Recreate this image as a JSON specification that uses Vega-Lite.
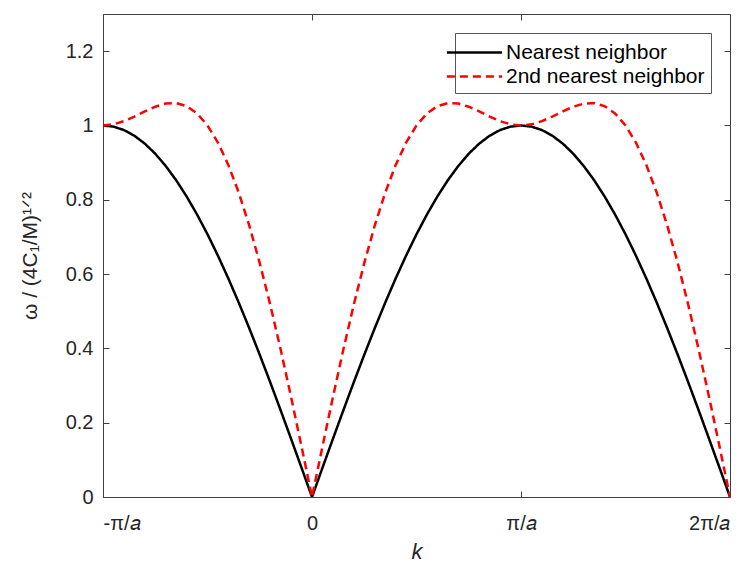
{
  "$schema": "https://vega.github.io/schema/vega-lite/v6.json",
  "width": 627,
  "height": 483,
  "autosize": {"type": "none"},
  "padding": {"left": 103, "top": 14, "right": 24, "bottom": 68},
  "background": "white",
  "config": {
    "view": {"stroke": "#404040", "strokeWidth": 1},
    "axis": {
      "labelFont": "Liberation Sans",
      "labelFontSize": 20,
      "labelColor": "#262626",
      "titleFont": "Liberation Sans",
      "titleFontSize": 20,
      "titleFontWeight": "normal",
      "titleColor": "#262626",
      "domainColor": "#404040",
      "tickColor": "#404040",
      "grid": false
    },
    "legend": {
      "labelFont": "Liberation Sans",
      "labelFontSize": 21,
      "labelColor": "#000000",
      "labelLimit": 400
    }
  },
  "data": {
    "values": [
      {"k": -1, "w": 1, "s": "Nearest neighbor"},
      {"k": -0.95, "w": 0.9969, "s": "Nearest neighbor"},
      {"k": -0.9, "w": 0.9877, "s": "Nearest neighbor"},
      {"k": -0.85, "w": 0.9724, "s": "Nearest neighbor"},
      {"k": -0.8, "w": 0.9511, "s": "Nearest neighbor"},
      {"k": -0.75, "w": 0.9239, "s": "Nearest neighbor"},
      {"k": -0.7, "w": 0.891, "s": "Nearest neighbor"},
      {"k": -0.65, "w": 0.8526, "s": "Nearest neighbor"},
      {"k": -0.6, "w": 0.809, "s": "Nearest neighbor"},
      {"k": -0.55, "w": 0.7604, "s": "Nearest neighbor"},
      {"k": -0.5, "w": 0.7071, "s": "Nearest neighbor"},
      {"k": -0.45, "w": 0.6494, "s": "Nearest neighbor"},
      {"k": -0.4, "w": 0.5878, "s": "Nearest neighbor"},
      {"k": -0.35, "w": 0.5225, "s": "Nearest neighbor"},
      {"k": -0.3, "w": 0.454, "s": "Nearest neighbor"},
      {"k": -0.25, "w": 0.3827, "s": "Nearest neighbor"},
      {"k": -0.2, "w": 0.309, "s": "Nearest neighbor"},
      {"k": -0.15, "w": 0.2334, "s": "Nearest neighbor"},
      {"k": -0.1, "w": 0.1564, "s": "Nearest neighbor"},
      {"k": -0.05, "w": 0.0785, "s": "Nearest neighbor"},
      {"k": 0, "w": 0, "s": "Nearest neighbor"},
      {"k": 0.05, "w": 0.0785, "s": "Nearest neighbor"},
      {"k": 0.1, "w": 0.1564, "s": "Nearest neighbor"},
      {"k": 0.15, "w": 0.2334, "s": "Nearest neighbor"},
      {"k": 0.2, "w": 0.309, "s": "Nearest neighbor"},
      {"k": 0.25, "w": 0.3827, "s": "Nearest neighbor"},
      {"k": 0.3, "w": 0.454, "s": "Nearest neighbor"},
      {"k": 0.35, "w": 0.5225, "s": "Nearest neighbor"},
      {"k": 0.4, "w": 0.5878, "s": "Nearest neighbor"},
      {"k": 0.45, "w": 0.6494, "s": "Nearest neighbor"},
      {"k": 0.5, "w": 0.7071, "s": "Nearest neighbor"},
      {"k": 0.55, "w": 0.7604, "s": "Nearest neighbor"},
      {"k": 0.6, "w": 0.809, "s": "Nearest neighbor"},
      {"k": 0.65, "w": 0.8526, "s": "Nearest neighbor"},
      {"k": 0.7, "w": 0.891, "s": "Nearest neighbor"},
      {"k": 0.75, "w": 0.9239, "s": "Nearest neighbor"},
      {"k": 0.8, "w": 0.9511, "s": "Nearest neighbor"},
      {"k": 0.85, "w": 0.9724, "s": "Nearest neighbor"},
      {"k": 0.9, "w": 0.9877, "s": "Nearest neighbor"},
      {"k": 0.95, "w": 0.9969, "s": "Nearest neighbor"},
      {"k": 1, "w": 1, "s": "Nearest neighbor"},
      {"k": 1.05, "w": 0.9969, "s": "Nearest neighbor"},
      {"k": 1.1, "w": 0.9877, "s": "Nearest neighbor"},
      {"k": 1.15, "w": 0.9724, "s": "Nearest neighbor"},
      {"k": 1.2, "w": 0.9511, "s": "Nearest neighbor"},
      {"k": 1.25, "w": 0.9239, "s": "Nearest neighbor"},
      {"k": 1.3, "w": 0.891, "s": "Nearest neighbor"},
      {"k": 1.35, "w": 0.8526, "s": "Nearest neighbor"},
      {"k": 1.4, "w": 0.809, "s": "Nearest neighbor"},
      {"k": 1.45, "w": 0.7604, "s": "Nearest neighbor"},
      {"k": 1.5, "w": 0.7071, "s": "Nearest neighbor"},
      {"k": 1.55, "w": 0.6494, "s": "Nearest neighbor"},
      {"k": 1.6, "w": 0.5878, "s": "Nearest neighbor"},
      {"k": 1.65, "w": 0.5225, "s": "Nearest neighbor"},
      {"k": 1.7, "w": 0.454, "s": "Nearest neighbor"},
      {"k": 1.75, "w": 0.3827, "s": "Nearest neighbor"},
      {"k": 1.8, "w": 0.309, "s": "Nearest neighbor"},
      {"k": 1.85, "w": 0.2334, "s": "Nearest neighbor"},
      {"k": 1.9, "w": 0.1564, "s": "Nearest neighbor"},
      {"k": 1.95, "w": 0.0785, "s": "Nearest neighbor"},
      {"k": 2, "w": 0, "s": "Nearest neighbor"},
      {"k": -1, "w": 1, "s": "2nd nearest neighbor"},
      {"k": -0.95, "w": 1.003, "s": "2nd nearest neighbor"},
      {"k": -0.9, "w": 1.0116, "s": "2nd nearest neighbor"},
      {"k": -0.85, "w": 1.024, "s": "2nd nearest neighbor"},
      {"k": -0.8, "w": 1.0379, "s": "2nd nearest neighbor"},
      {"k": -0.75, "w": 1.0505, "s": "2nd nearest neighbor"},
      {"k": -0.7, "w": 1.0588, "s": "2nd nearest neighbor"},
      {"k": -0.65, "w": 1.0602, "s": "2nd nearest neighbor"},
      {"k": -0.6, "w": 1.052, "s": "2nd nearest neighbor"},
      {"k": -0.55, "w": 1.0325, "s": "2nd nearest neighbor"},
      {"k": -0.5, "w": 1.0, "s": "2nd nearest neighbor"},
      {"k": -0.45, "w": 0.9537, "s": "2nd nearest neighbor"},
      {"k": -0.4, "w": 0.8932, "s": "2nd nearest neighbor"},
      {"k": -0.35, "w": 0.8185, "s": "2nd nearest neighbor"},
      {"k": -0.3, "w": 0.7303, "s": "2nd nearest neighbor"},
      {"k": -0.25, "w": 0.6296, "s": "2nd nearest neighbor"},
      {"k": -0.2, "w": 0.5179, "s": "2nd nearest neighbor"},
      {"k": -0.15, "w": 0.3969, "s": "2nd nearest neighbor"},
      {"k": -0.1, "w": 0.2687, "s": "2nd nearest neighbor"},
      {"k": -0.05, "w": 0.1356, "s": "2nd nearest neighbor"},
      {"k": 0, "w": 0, "s": "2nd nearest neighbor"},
      {"k": 0.05, "w": 0.1356, "s": "2nd nearest neighbor"},
      {"k": 0.1, "w": 0.2687, "s": "2nd nearest neighbor"},
      {"k": 0.15, "w": 0.3969, "s": "2nd nearest neighbor"},
      {"k": 0.2, "w": 0.5179, "s": "2nd nearest neighbor"},
      {"k": 0.25, "w": 0.6296, "s": "2nd nearest neighbor"},
      {"k": 0.3, "w": 0.7303, "s": "2nd nearest neighbor"},
      {"k": 0.35, "w": 0.8185, "s": "2nd nearest neighbor"},
      {"k": 0.4, "w": 0.8932, "s": "2nd nearest neighbor"},
      {"k": 0.45, "w": 0.9537, "s": "2nd nearest neighbor"},
      {"k": 0.5, "w": 1.0, "s": "2nd nearest neighbor"},
      {"k": 0.55, "w": 1.0325, "s": "2nd nearest neighbor"},
      {"k": 0.6, "w": 1.052, "s": "2nd nearest neighbor"},
      {"k": 0.65, "w": 1.0602, "s": "2nd nearest neighbor"},
      {"k": 0.7, "w": 1.0588, "s": "2nd nearest neighbor"},
      {"k": 0.75, "w": 1.0505, "s": "2nd nearest neighbor"},
      {"k": 0.8, "w": 1.0379, "s": "2nd nearest neighbor"},
      {"k": 0.85, "w": 1.024, "s": "2nd nearest neighbor"},
      {"k": 0.9, "w": 1.0116, "s": "2nd nearest neighbor"},
      {"k": 0.95, "w": 1.003, "s": "2nd nearest neighbor"},
      {"k": 1, "w": 1, "s": "2nd nearest neighbor"},
      {"k": 1.05, "w": 1.003, "s": "2nd nearest neighbor"},
      {"k": 1.1, "w": 1.0116, "s": "2nd nearest neighbor"},
      {"k": 1.15, "w": 1.024, "s": "2nd nearest neighbor"},
      {"k": 1.2, "w": 1.0379, "s": "2nd nearest neighbor"},
      {"k": 1.25, "w": 1.0505, "s": "2nd nearest neighbor"},
      {"k": 1.3, "w": 1.0588, "s": "2nd nearest neighbor"},
      {"k": 1.35, "w": 1.0602, "s": "2nd nearest neighbor"},
      {"k": 1.4, "w": 1.052, "s": "2nd nearest neighbor"},
      {"k": 1.45, "w": 1.0325, "s": "2nd nearest neighbor"},
      {"k": 1.5, "w": 1.0, "s": "2nd nearest neighbor"},
      {"k": 1.55, "w": 0.9537, "s": "2nd nearest neighbor"},
      {"k": 1.6, "w": 0.8932, "s": "2nd nearest neighbor"},
      {"k": 1.65, "w": 0.8185, "s": "2nd nearest neighbor"},
      {"k": 1.7, "w": 0.7303, "s": "2nd nearest neighbor"},
      {"k": 1.75, "w": 0.6296, "s": "2nd nearest neighbor"},
      {"k": 1.8, "w": 0.5179, "s": "2nd nearest neighbor"},
      {"k": 1.85, "w": 0.3969, "s": "2nd nearest neighbor"},
      {"k": 1.9, "w": 0.2687, "s": "2nd nearest neighbor"},
      {"k": 1.95, "w": 0.1356, "s": "2nd nearest neighbor"},
      {"k": 2, "w": 0, "s": "2nd nearest neighbor"}
    ]
  },
  "layer": [
    {
      "mark": {"type": "line", "strokeWidth": 2.5, "clip": true},
      "encoding": {
        "x": {
          "field": "k", "type": "quantitative",
          "scale": {"domain": [-1, 2], "nice": false, "zero": false},
          "axis": {
            "orient": "bottom",
            "values": [-1, 0, 1, 2],
            "labelExpr": "datum.value == -1 ? '-π/𝑎' : datum.value == 0 ? '0' : datum.value == 1 ? 'π/𝑎' : '2π/𝑎'",
            "tickSize": -6,
            "labelPadding": 22,
            "domain": false,
            "title": "k",
            "titleFontSize": 22,
            "titleFontStyle": "italic",
            "titlePadding": 8
          }
        },
        "y": {
          "field": "w", "type": "quantitative",
          "scale": {"domain": [0, 1.3], "nice": false},
          "axis": {
            "orient": "left",
            "values": [0, 0.2, 0.4, 0.6, 0.8, 1, 1.2],
            "format": "~g",
            "tickSize": -6,
            "labelPadding": 16,
            "domain": false,
            "title": "ω / (4C₁/M)¹ᐟ²",
            "titleFontSize": 21,
            "titlePadding": 25
          }
        },
        "color": {
          "field": "s", "type": "nominal",
          "scale": {"domain": ["Nearest neighbor", "2nd nearest neighbor"], "range": ["#000000", "#ff0000"]},
          "legend": {
            "title": null,
            "orient": "top-right",
            "offset": 19,
            "symbolType": "M-2.3,0L2.3,0",
            "symbolSize": 576,
            "symbolStrokeWidth": 2.5,
            "labelOffset": 18,
            "padding": 6,
            "rowPadding": 0,
            "fillColor": "white",
            "strokeColor": "#555555"
          }
        },
        "strokeDash": {
          "field": "s", "type": "nominal",
          "scale": {"domain": ["Nearest neighbor", "2nd nearest neighbor"], "range": [[1, 0], [8, 5]]},
          "legend": {
            "title": null,
            "orient": "top-right",
            "offset": 19,
            "symbolType": "M-2.3,0L2.3,0",
            "symbolSize": 576,
            "symbolStrokeWidth": 2.5,
            "labelOffset": 18,
            "padding": 6,
            "rowPadding": 0,
            "fillColor": "white",
            "strokeColor": "#555555"
          }
        }
      }
    },
    {
      "mark": {"type": "line", "strokeOpacity": 0},
      "encoding": {
        "x": {
          "field": "k", "type": "quantitative",
          "axis": {"orient": "top", "values": [-1, 0, 1, 2], "tickSize": -6, "labels": false, "domain": false, "title": null}
        },
        "y": {
          "field": "w", "type": "quantitative",
          "axis": {"orient": "right", "values": [0, 0.2, 0.4, 0.6, 0.8, 1, 1.2], "tickSize": -6, "labels": false, "domain": false, "title": null}
        },
        "detail": {"field": "s", "type": "nominal"}
      }
    }
  ],
  "resolve": {"axis": {"x": "independent", "y": "independent"}}
}
